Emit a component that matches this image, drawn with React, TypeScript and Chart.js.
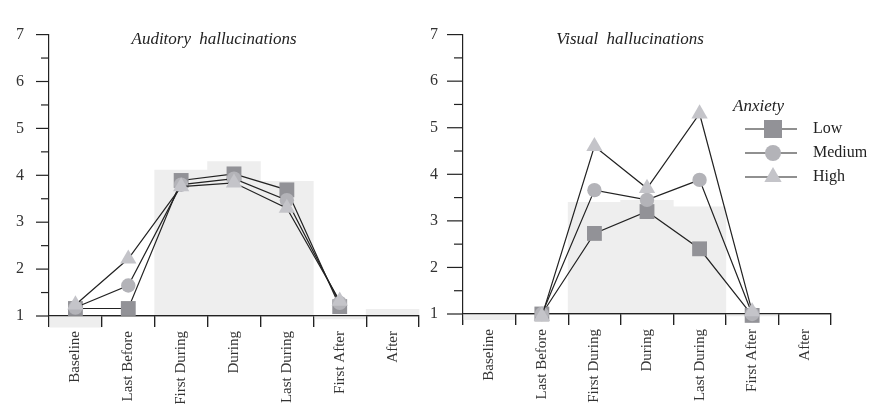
import React, { useEffect, useRef } from "react";
import { Chart, registerables } from "chart.js";

Chart.register(...registerables);

const categories = ["Baseline", "Last Before", "First During", "During", "Last During", "First After", "After"];
const seriesNames = ["Low", "Medium", "High"];
const legendTitle = "Anxiety";
const yTickValues = [1, 2, 3, 4, 5, 6, 7];

const auditoryTitle = "Auditory hallucinations";
const auditoryBars = [0.76, null, 4.11, 4.29, 3.87, 0.94, 1.14];
const auditoryLow = [1.16, 1.16, 3.89, 4.03, 3.69, 1.2, null];
const auditoryMedium = [1.18, 1.65, 3.8, 3.93, 3.47, 1.28, null];
const auditoryHigh = [1.24, 2.22, 3.76, 3.84, 3.3, 1.32, null];

const visualTitle = "Visual hallucinations";
const visualBars = [0.88, null, 3.4, 3.44, 3.3, 0.96, null];
const visualLow = [null, 1.0, 2.73, 3.2, 2.4, 0.97, null];
const visualMedium = [null, 1.0, 3.66, 3.45, 3.88, 1.0, null];
const visualHigh = [null, 0.95, 4.6, 3.7, 5.3, 1.05, null];

const FONT = '"Liberation Serif", "DejaVu Serif", serif';
const INK = "#222222";
const seriesColors = ["#929297", "#b3b3b8", "#c4c4c9"];
const pointStyles = ["rect", "circle", "triangle"];
const pointRadii = [10.5, 7.2, 9.4];
const barColor = "#eeeeee";

function drawMarker(ctx: CanvasRenderingContext2D, style: string, x: number, y: number, color: string) {
  ctx.fillStyle = color;
  ctx.beginPath();
  if (style === "rect") {
    ctx.rect(x - 9, y - 9, 18, 18);
  } else if (style === "circle") {
    ctx.arc(x, y, 8, 0, Math.PI * 2);
  } else {
    const r = 10;
    ctx.moveTo(x, y - r);
    ctx.lineTo(x + r * Math.sin((2 * Math.PI) / 3), y + r / 2);
    ctx.lineTo(x - r * Math.sin((2 * Math.PI) / 3), y + r / 2);
    ctx.closePath();
  }
  ctx.fill();
}

const panelPlugin = {
  id: "panelDeco",
  afterDatasetDraw(chart: any, args: any) {
    if (args.meta.type !== "bar") return;
    const x = chart.scales.x;
    x.drawGrid(chart.chartArea);
    x.drawBorder();
  },
  afterDraw(chart: any, _args: any, opts: any) {
    const ctx: CanvasRenderingContext2D = chart.ctx;
    const y = chart.scales.y;
    const left = chart.chartArea.left;
    ctx.save();
    ctx.strokeStyle = INK;
    ctx.lineWidth = 1.2;
    y.ticks.forEach((t: any) => {
      const py = y.getPixelForValue(t.value);
      const len = Number.isInteger(t.value) ? opts.major : opts.minor;
      ctx.beginPath();
      ctx.moveTo(left - len, py);
      ctx.lineTo(left, py);
      ctx.stroke();
    });
    // title
    ctx.fillStyle = INK;
    ctx.font = `italic 17px ${FONT}`;
    (ctx as any).wordSpacing = "4px";
    ctx.textAlign = "center";
    ctx.textBaseline = "middle";
    ctx.fillText(opts.title, opts.titleX, opts.titleY);
    (ctx as any).wordSpacing = "0px";
    // legend
    if (opts.legend) {
      const lx = opts.legendX;
      const ly = opts.legendY;
      ctx.textAlign = "left";
      ctx.font = `italic 17px ${FONT}`;
      ctx.fillText(legendTitle, lx, ly);
      ctx.font = `16px ${FONT}`;
      seriesNames.forEach((name, i) => {
        const cy = ly + 22 + 24 * i;
        ctx.strokeStyle = INK;
        ctx.lineWidth = 1.2;
        ctx.beginPath();
        ctx.moveTo(lx + 12, cy);
        ctx.lineTo(lx + 64, cy);
        ctx.stroke();
        drawMarker(ctx, pointStyles[i], lx + 40, cy, seriesColors[i]);
        ctx.fillStyle = INK;
        ctx.fillText(name, lx + 80, cy);
      });
    }
    ctx.restore();
  },
};

type PanelProps = {
  left: number;
  width: number;
  padTop: number;
  padRight: number;
  yWidth: number;
  xHeight: number;
  major: number;
  minor: number;
  title: string;
  titleX: number;
  titleY: number;
  bars: (number | null)[];
  low: (number | null)[];
  medium: (number | null)[];
  high: (number | null)[];
  legend: boolean;
  legendX?: number;
  legendY?: number;
};

function Panel(p: PanelProps) {
  const ref = useRef<HTMLCanvasElement>(null);
  useEffect(() => {
    const lines = [p.low, p.medium, p.high].map((d, i) => ({
      type: "line" as const,
      label: seriesNames[i],
      data: d,
      borderColor: INK,
      borderWidth: 1.2,
      tension: 0,
      fill: false,
      pointStyle: pointStyles[i],
      pointRadius: pointRadii[i],
      pointHoverRadius: pointRadii[i],
      pointBackgroundColor: seriesColors[i],
      pointBorderWidth: 0,
      spanGaps: false,
      clip: false as any,
      order: 3 - i,
    }));
    const chart = new Chart(ref.current as HTMLCanvasElement, {
      type: "bar",
      data: {
        labels: categories,
        datasets: [
          {
            type: "bar" as const,
            label: "bars",
            data: p.bars.map((v) => (v == null ? null : [1, v])) as any,
            backgroundColor: barColor,
            borderWidth: 0,
            barPercentage: 1,
            categoryPercentage: 1,
            clip: false as any,
            order: 10,
          },
          ...(lines as any[]),
        ],
      },
      options: {
        responsive: false,
        animation: false,
        events: [],
        layout: { padding: { top: p.padTop, right: p.padRight, left: 0, bottom: 0 } },
        plugins: {
          legend: { display: false },
          tooltip: { enabled: false },
          panelDeco: {
            major: p.major,
            minor: p.minor,
            title: p.title,
            titleX: p.titleX,
            titleY: p.titleY,
            legend: p.legend,
            legendX: p.legendX,
            legendY: p.legendY,
          },
        } as any,
        scales: {
          x: {
            type: "category",
            offset: true,
            grid: {
              display: true,
              drawOnChartArea: false,
              drawTicks: true,
              tickLength: 11,
              color: INK,
              lineWidth: 1.2,
              offset: true,
            },
            border: { display: true, color: INK, width: 1.2 },
            ticks: {
              minRotation: 90,
              maxRotation: 90,
              autoSkip: false,
              padding: 4,
              color: "#333333",
              font: { family: FONT, size: 15 },
            },
            afterFit: (s: any) => {
              s.height = p.xHeight;
              s.paddingLeft = 0;
              s.paddingRight = 0;
            },
          },
          y: {
            type: "linear",
            min: yTickValues[0],
            max: yTickValues[yTickValues.length - 1],
            grid: { display: false, drawTicks: false },
            border: { display: true, color: INK, width: 1.2 },
            ticks: {
              stepSize: 0.5,
              padding: 25,
              color: "#333333",
              font: { family: FONT, size: 16 },
              callback: (v: any) => (yTickValues.includes(Number(v)) ? String(v) : ""),
            },
            afterFit: (s: any) => {
              s.width = p.yWidth;
            },
          },
        },
      },
      plugins: [panelPlugin as any],
    });
    return () => chart.destroy();
  }, []);
  return (
    <canvas
      ref={ref}
      width={p.width}
      height={404}
      style={{ position: "absolute", left: p.left, top: 0, width: p.width, height: 404 }}
    />
  );
}

export default function App() {
  useEffect(() => {
    document.body.style.margin = "0";
  }, []);
  return (
    <div style={{ position: "fixed", left: 0, top: 0, width: 885, height: 404, background: "#ffffff" }}>
      <Panel
        left={0}
        width={440}
        padTop={20}
        padRight={21}
        yWidth={49}
        xHeight={88}
        major={13}
        minor={8}
        title={auditoryTitle}
        titleX={214}
        titleY={40}
        bars={auditoryBars}
        low={auditoryLow}
        medium={auditoryMedium}
        high={auditoryHigh}
        legend={false}
      />
      <Panel
        left={400}
        width={485}
        padTop={19}
        padRight={54}
        yWidth={63}
        xHeight={90}
        major={16}
        minor={9}
        title={visualTitle}
        titleX={230}
        titleY={40}
        bars={visualBars}
        low={visualLow}
        medium={visualMedium}
        high={visualHigh}
        legend={true}
        legendX={333}
        legendY={107}
      />
    </div>
  );
}
